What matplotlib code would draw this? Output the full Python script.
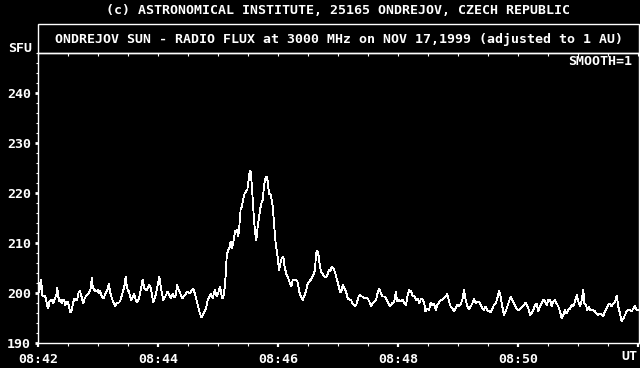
import matplotlib
matplotlib.use("Agg")
import matplotlib.pyplot as plt
from matplotlib.patches import Rectangle
from matplotlib.ticker import MultipleLocator

# seconds after 08:42:00 UT
t_sec = [
    0, 1.3, 2.7, 3.7, 4.3, 5.3, 6.7, 8, 9.3, 10.3,
    11.3, 12.7, 14, 15.3, 16.3, 17.7, 18.7, 19.3, 20.3, 21.3,
    22.7, 24, 25, 26.3, 27.3, 28.3, 29.7, 31, 32.3, 33.7,
    35, 36.3, 37.7, 39, 40.3, 41.7, 42.7, 44, 45.3, 46.3,
    47.7, 48.7, 50.3, 51.7, 53, 53.7, 54.7, 56, 57, 58.3,
    59.7, 60.7, 62, 63.3, 64.7, 66, 67.3, 68.7, 69.7, 70.7,
    72, 73.3, 74.7, 76, 77.3, 78.7, 80, 81.3, 82.7, 84,
    85.3, 86.7, 87.7, 88.7, 90, 91, 92, 93.3, 94.3, 95.3,
    96.3, 97.3, 98.7, 100.7, 102, 104.7, 106.3, 108.7, 111.3, 113,
    115.3, 117.3, 118.7, 121.3, 123, 125.3, 127.3, 129.7, 131.3, 133,
    134.7, 136.3, 138, 139, 140.7, 142.3, 144, 146.3, 148, 149.7,
    151.3, 153, 155.3, 157.3, 159.7, 161.3, 163.3, 165.3, 168, 169.7,
    171.3, 173, 174.7, 176.7, 178.7, 180.7, 182, 183.7, 184.7, 186,
    187, 188, 188.7, 190, 191.3, 192.7, 193.7, 194.7, 196, 197,
    198.7, 200.3, 201.3, 202.7, 204, 205.3, 206.7, 208, 209.3, 210.7,
    211.7, 212.7, 213.7, 214.7, 216, 217, 218.3, 219.3, 220.7, 222,
    223.3, 224.7, 226, 227.3, 228.7, 229.7, 231, 232.7, 233.7, 234.7,
    236, 237.3, 238.7, 240, 241, 242, 243.7, 245.3, 246.3, 247.7,
    248.7, 250.3, 252, 253.3, 254.7, 257, 259.3, 260.7, 262, 263.7,
    264.7, 266, 268, 269.3, 271.3, 273.7, 275.3, 277, 278, 279.3,
    280.7, 282, 283, 284.7, 287.3, 289, 290.7, 292, 294, 295.7,
    297.3, 298.7, 300, 301.3, 302.3, 303.7, 304.7, 306.3, 308, 309.7,
    311.3, 313, 314.7, 317.3, 318.7, 320.7, 322, 323, 324.7, 326.3,
    328, 329.7, 331.3, 333, 334.7, 336.3, 338, 340, 341.3, 343,
    344.7, 346.3, 348, 349.7, 352, 354, 356.3, 358, 359, 360.7,
    363, 364.7, 366.3, 368, 369.7, 371.3, 373, 374.7, 376.3, 378,
    379.7, 381.3, 383, 384.7, 386.3, 387.3, 389.3, 391, 392.7, 394.3,
    396, 397.7, 399.3, 401, 402.7, 404.3, 406, 407.7, 409.3, 411,
    412.7, 414.3, 416, 417.7, 419.3, 421, 422.7, 424.3, 426, 427.7,
    429.3, 431, 432.7, 434.3, 436, 437.7, 439.3, 441, 442.7, 444.3,
    446, 447.7, 449.3, 451, 452.7, 454.3, 456, 457.7, 459.3, 461,
    462.7, 464.3, 466, 467.7, 469.3, 471, 472.7, 474.3, 476, 477.7,
    479.3, 481, 482.7, 484.3, 486, 487.7, 489.3, 491, 492, 493.7,
    495.3, 497, 498.7, 500.3, 502, 503.7, 505.3, 507, 508.7, 510.3,
    512, 513.7, 515.3, 517, 518.7, 520.3, 522, 523.7, 525.3, 527,
    528.7, 530.3, 532, 533.7, 535.3, 537, 538.7, 540.3, 542, 543.7,
    545.3, 546.3, 548, 549.3, 550.7, 552, 553.7, 555.3, 557, 558.7,
    560.3, 562, 563.7, 565.3, 567, 568.7, 570.3, 572, 573.7, 575.3,
    577, 578.7, 580.3, 582, 583.7, 585.3, 587, 588.7, 590.3, 592,
    593.7, 595.3, 597, 598.7, 600.3,
]

# radio flux in SFU
sfu = [
    201.5, 200.2, 202.7, 201.3, 199.6, 199.3, 199.4, 198.9, 197.3, 196.9,
    198.3, 198.6, 198.6, 197.9, 198.6, 199.3, 199.9, 201.1, 199.3, 198.3,
    198.6, 197.9, 198.7, 198.6, 197.6, 198.1, 198.3, 197.3, 196.1, 196.6,
    197.9, 198.9, 198.7, 198.5, 199.9, 200.5, 199.9, 198.9, 197.9, 198.7,
    199.3, 199.6, 199.9, 200.3, 201.1, 203.1, 201.3, 200.7, 200.5, 200.3,
    200.6, 199.9, 200.4, 199.6, 198.9, 199.1, 199.9, 200.3, 200.7, 201.9,
    200.3, 199.3, 198.5, 197.9, 197.4, 197.9, 198.1, 198.1, 198.7, 199.6,
    200.6, 201.6, 203.3, 201.4, 200.5, 200.3, 199.4, 198.5, 199.1, 199.4,
    199.8, 198.9, 198.2, 198.7, 199.9, 202.7, 200.9, 200.6, 201.6, 200.9,
    198.1, 199.3, 200.6, 203.3, 200.9, 198.6, 199.3, 200.3, 199.6, 198.9,
    199.9, 199.1, 199.6, 201.6, 200.6, 199.9, 198.9, 199.4, 199.9, 200.3,
    199.9, 200.3, 200.9, 199.6, 197.6, 196.3, 195.1, 195.9, 196.9, 198.6,
    199.3, 199.9, 198.9, 200.6, 199.3, 200.3, 201.3, 199.3, 198.9, 199.9,
    201.6, 204.6, 207.3, 208.6, 208.9, 210.3, 208.9, 209.6, 210.9, 212.3,
    212.6, 211.3, 213.3, 216.9, 217.3, 218.9, 219.9, 220.3, 220.6, 222.6,
    224.5, 224.3, 221.9, 218.6, 214.6, 212.3, 210.6, 212.6, 214.6, 216.6,
    217.9, 218.6, 221.3, 222.9, 223.3, 222.3, 219.9, 219.6, 218.6, 217.3,
    213.9, 210.6, 208.6, 206.6, 204.6, 205.6, 206.9, 207.3, 205.6, 204.3,
    203.6, 202.9, 201.9, 201.3, 202.6, 202.6, 202.5, 200.9, 199.6, 199.1,
    198.6, 199.3, 200.3, 201.6, 202.3, 202.9, 203.6, 204.6, 207.9, 208.5,
    207.3, 205.3, 204.3, 203.8, 203.1, 203.3, 204.6, 204.3, 205.3, 204.9,
    203.9, 202.9, 201.9, 200.9, 200.1, 200.6, 201.6, 200.9, 200.3, 198.9,
    198.7, 198.6, 197.9, 197.3, 197.9, 199.3, 199.6, 199.3, 199.3, 198.9,
    199.1, 198.9, 198.3, 197.3, 197.9, 198.3, 198.6, 200.3, 200.9, 199.9,
    199.3, 199.3, 198.9, 198.3, 197.3, 197.9, 198.3, 200.3, 198.3, 198.6,
    198.3, 198.7, 197.9, 197.6, 199.6, 200.6, 200.3, 199.4, 199.3, 198.6,
    198.9, 197.9, 198.9, 198.6, 197.9, 196.3, 196.9, 196.6, 198.1, 197.6,
    197.9, 196.6, 197.6, 198.1, 198.6, 198.7, 198.9, 199.3, 199.8, 198.3,
    197.3, 196.9, 196.3, 196.9, 197.6, 197.4, 197.8, 198.6, 200.6, 198.6,
    197.3, 196.7, 197.3, 197.9, 198.9, 197.9, 198.3, 198.3, 197.6, 196.9,
    196.6, 197.3, 196.6, 196.3, 196.1, 196.9, 197.6, 197.9, 198.9, 200.5,
    199.3, 197.3, 195.6, 196.3, 197.3, 198.3, 199.3, 198.6, 197.9, 197.3,
    196.7, 196.6, 196.9, 197.3, 197.6, 198.1, 197.3, 196.6, 195.6, 195.9,
    196.6, 197.6, 197.9, 196.3, 197.3, 197.9, 198.7, 198.3, 197.6, 198.6,
    198.7, 197.3, 198.3, 198.6, 197.9, 197.3, 196.3, 194.9, 195.6, 196.6,
    195.9, 196.6, 196.9, 197.6, 197.3, 198.3, 199.6, 198.3, 197.3, 198.6,
    200.6, 197.9, 197.6, 196.6, 197.3, 196.6, 196.7, 196.6, 196.3, 195.9,
    195.6, 195.9, 195.6, 195.4, 196.3, 196.9, 197.6, 197.9, 197.3, 197.9,
    198.3, 199.4, 197.3, 195.9, 194.3, 194.9, 195.6, 196.3, 196.6, 196.7,
    196.3, 196.9, 197.4, 196.6, 196.6,
]

x_ticks = [0, 120, 240, 360, 480, 600]
x_labels = ['08:42', '08:44', '08:46', '08:48', '08:50', '']
y_ticks = [190, 200, 210, 220, 230, 240]

plt.rcParams['font.family'] = 'DejaVu Sans Mono'
plt.rcParams['font.weight'] = 'bold'
plt.rcParams['font.size'] = 9.5

fig = plt.figure(figsize=(6.4, 3.68), dpi=100, facecolor='black')
W, H = 640.0, 368.0
ax = fig.add_axes([38 / W, 1 - 343 / H, 601 / W, 290 / H])
ax.set_facecolor('black')

ax.plot(t_sec, sfu, color='white', lw=0.6, antialiased=False)

ax.set_xlim(0, 601)
ax.set_ylim(190, 248)
for s in ax.spines.values():
    s.set_color('white')
    s.set_linewidth(1.0)

ax.set_xticks(x_ticks)
ax.set_xticklabels(x_labels)
ax.xaxis.set_minor_locator(MultipleLocator(30))
ax.set_yticks(y_ticks)
ax.yaxis.set_minor_locator(MultipleLocator(2))

ax.tick_params(axis='both', which='both', colors='white', labelcolor='white',
               direction='out', top=False, right=False)
ax.tick_params(axis='x', which='major', length=3.0, width=1.6, pad=4)
ax.tick_params(axis='x', which='minor', length=2.2, width=0.8)
ax.tick_params(axis='y', which='major', length=2.4, width=2.0, pad=2.5)
ax.tick_params(axis='y', which='minor', length=1.2, width=0.8)

# small inward ticks along the top edge
top = ax.secondary_xaxis('top')
top.set_xticks(range(0, 601, 30))
top.set_xticklabels([])
top.tick_params(direction='in', length=1.8, width=0.8, colors='white')
top.spines['top'].set_visible(False)

ax.text(0.988, 0.972, 'SMOOTH=1', transform=ax.transAxes, color='white',
        ha='right', va='center')

# title box above the plot
fig.add_artist(Rectangle((38 / W, 1 - 53 / H), 601 / W, 28.5 / H,
                         transform=fig.transFigure, fill=False,
                         edgecolor='white', lw=1.0))
fig.text(339 / W, 1 - 39.5 / H,
         'ONDREJOV SUN - RADIO FLUX at 3000 MHz on NOV 17,1999 (adjusted to 1 AU)',
         color='white', ha='center', va='center')
fig.text(338 / W, 1 - 10 / H,
         '(c) ASTRONOMICAL INSTITUTE, 25165 ONDREJOV, CZECH REPUBLIC',
         color='white', ha='center', va='center')
fig.text(8 / W, 1 - 48 / H, 'SFU', color='white', ha='left', va='center')
fig.text(637 / W, 1 - 357 / H, 'UT', color='white', ha='right', va='center')

fig.savefig('out.png', dpi=100, facecolor='black')
